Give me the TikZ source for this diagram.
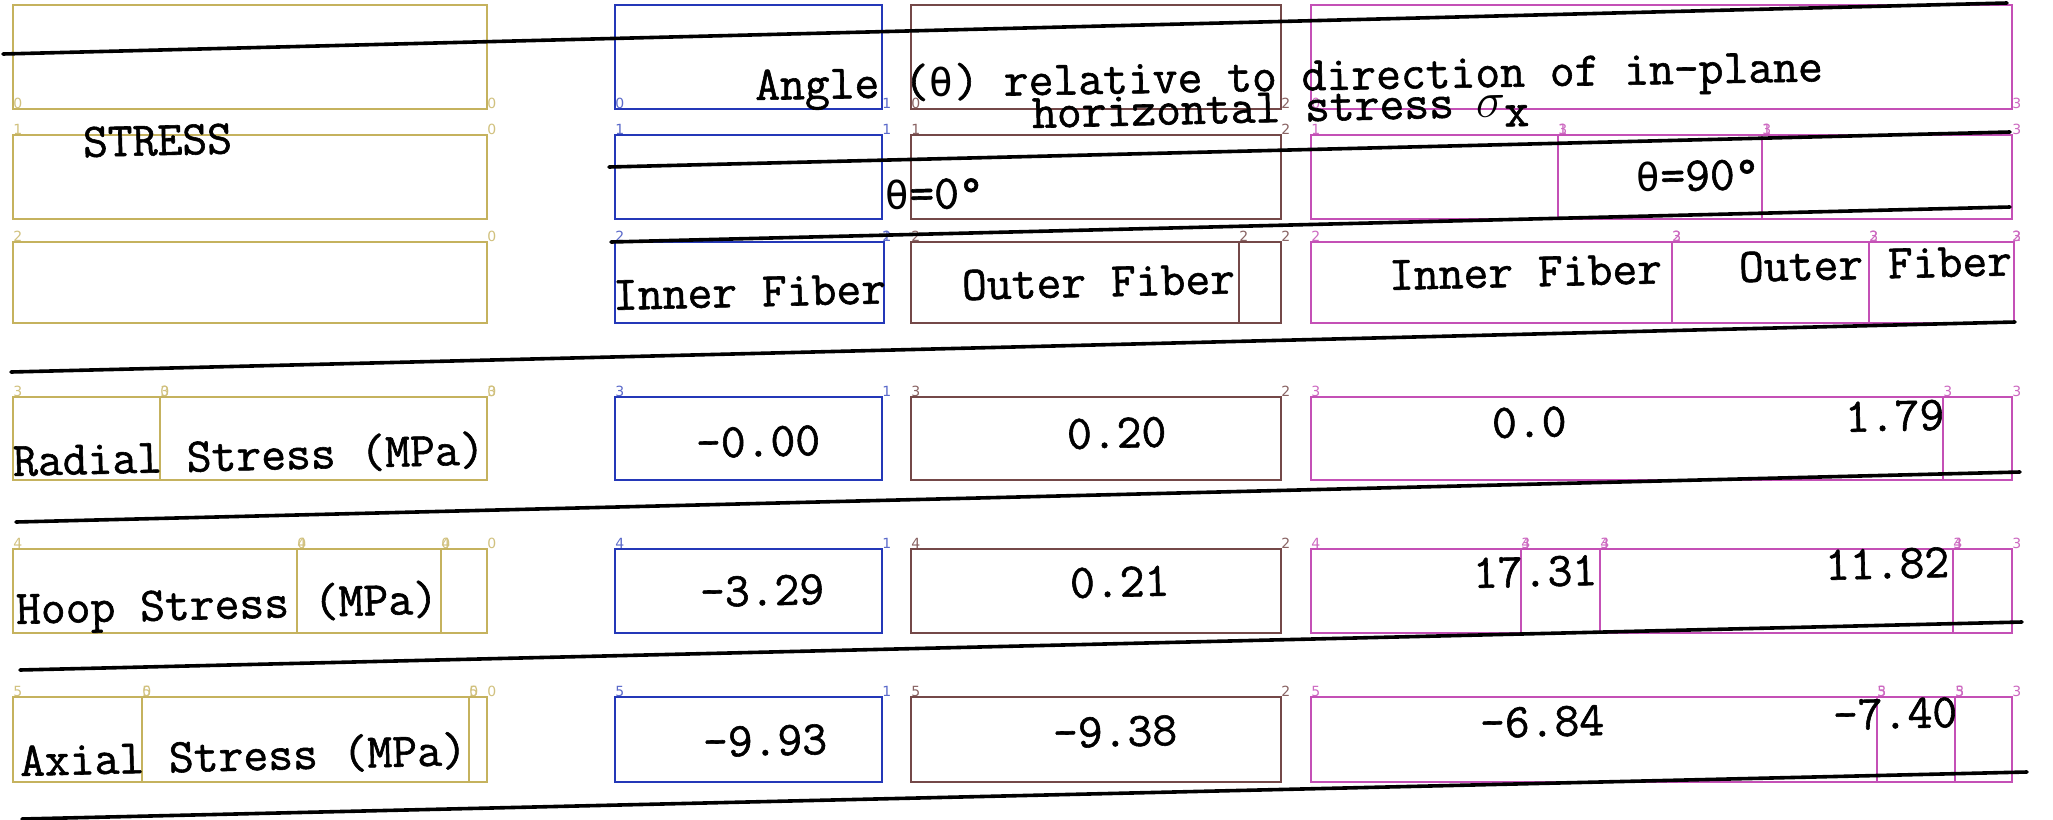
\documentclass[tikz,border=0pt]{standalone}
\usepackage{fontspec}
\newfontfamily\tw[FakeBold=1.2]{Latin Modern Mono}
\newfontfamily\grk{DejaVu Sans Mono}
\newfontfamily\idxfont{DejaVu Sans}
\definecolor{cgold}{RGB}{197,178,94}
\definecolor{cblue}{RGB}{36,56,184}
\definecolor{cbrown}{RGB}{116,72,72}
\definecolor{cpink}{RGB}{196,80,182}
\newcommand\ov[2]{\rlap{#1}#2}
\newcommand\gth{\makebox[0.525em]{\grk\fontsize{20}{20}\selectfont θ}}
\newcommand\gsig{\makebox[0.525em]{$\sigma$}}
\begin{document}
\begin{tikzpicture}[x=0.5pt,y=-0.5pt,
  goldbox/.style={draw=cgold,line width=1pt},
  bluebox/.style={draw=cblue,line width=1pt},
  brownbox/.style={draw=cbrown,line width=1pt},
  pinkbox/.style={draw=cpink,line width=1pt},
  rule/.style={line width=1.8pt,line cap=round},
  txt/.style={font=\tw\fontsize{24.1}{25}\selectfont,inner sep=0pt,anchor=base west,rotate=1.4},
  idx/.style={font=\idxfont\fontsize{7}{7}\selectfont,inner sep=0pt,anchor=south west},
  ig/.style={idx,text=cgold!80},
  ib/.style={idx,text=cblue!75},
  ibr/.style={idx,text=cbrown!85},
  ip/.style={idx,text=cpink!85}]
\useasboundingbox (0,0) rectangle (2053,820);
\fill[white] (0,0) rectangle (2053,820);

% ---- gold column
\draw[goldbox] (13,5) rectangle (487,109);
\draw[goldbox] (13,135) rectangle (487,219);
\draw[goldbox] (13,242) rectangle (487,323);
\draw[goldbox] (13,397) rectangle (160,480);
\draw[goldbox] (160,397) rectangle (487,480);
\draw[goldbox] (13,549) rectangle (297,633);
\draw[goldbox] (297,549) rectangle (441,633);
\draw[goldbox] (441,549) rectangle (487,633);
\draw[goldbox] (13,697) rectangle (142,782);
\draw[goldbox] (142,697) rectangle (469,782);
\draw[goldbox] (469,697) rectangle (487,782);
% ---- blue column
\draw[bluebox] (615,5) rectangle (882,109);
\draw[bluebox] (615,135) rectangle (882,219);
\draw[bluebox] (615,242) rectangle (884,323);
\draw[bluebox] (615,397) rectangle (882,480);
\draw[bluebox] (615,549) rectangle (882,633);
\draw[bluebox] (615,697) rectangle (882,782);
% ---- brown column
\draw[brownbox] (911,5) rectangle (1281,109);
\draw[brownbox] (911,135) rectangle (1281,219);
\draw[brownbox] (911,242) rectangle (1239,323);
\draw[brownbox] (1239,242) rectangle (1281,323);
\draw[brownbox] (911,397) rectangle (1281,480);
\draw[brownbox] (911,549) rectangle (1281,633);
\draw[brownbox] (911,697) rectangle (1281,782);
% ---- pink column
\draw[pinkbox] (1311,5) rectangle (2012,109);
\draw[pinkbox] (1311,135) rectangle (1558,219);
\draw[pinkbox] (1558,135) rectangle (1762,219);
\draw[pinkbox] (1762,135) rectangle (2012,219);
\draw[pinkbox] (1311,242) rectangle (1672,323);
\draw[pinkbox] (1672,242) rectangle (1869,323);
\draw[pinkbox] (1869,242) rectangle (2014,323);
\draw[pinkbox] (1311,397) rectangle (1943,480);
\draw[pinkbox] (1943,397) rectangle (2012,480);
\draw[pinkbox] (1311,549) rectangle (1521,633);
\draw[pinkbox] (1521,549) rectangle (1600,633);
\draw[pinkbox] (1600,549) rectangle (1953,633);
\draw[pinkbox] (1953,549) rectangle (2012,633);
\draw[pinkbox] (1311,697) rectangle (1877,782);
\draw[pinkbox] (1877,697) rectangle (1955,782);
\draw[pinkbox] (1955,697) rectangle (2012,782);

% ---- index labels
\node[ig] (g00) at (13,109) {0};   \node[ig] (g01) at (487,109) {0};
\node[ig] (g10) at (13,135) {1};   \node[ig] (g11) at (487,135) {0};
\node[ig] (g20) at (13,242) {2};   \node[ig] (g21) at (487,242) {0};
\node[ig] (g30) at (13,397) {3};   \node[ig] (g31) at (160,397) {\ov{0}{3}}; \node[ig] (g32) at (487,397) {\ov{0}{3}};
\node[ig] (g40) at (13,549) {4};   \node[ig] (g41) at (297,549) {\ov{0}{4}}; \node[ig] (g42) at (441,549) {\ov{0}{4}}; \node[ig] (g43) at (487,549) {0};
\node[ig] (g50) at (13,697) {5};   \node[ig] (g51) at (142,697) {\ov{0}{5}}; \node[ig] (g52) at (469,697) {\ov{0}{5}}; \node[ig] (g53) at (487,697) {0};

\node[ib] (b00) at (615,109) {0};  \node[ib] (b01) at (882,109) {1};
\node[ib] (b10) at (615,135) {1};  \node[ib] (b11) at (882,135) {1};
\node[ib] (b20) at (615,242) {2};  \node[ib] (b21) at (882,242) {\ov{1}{2}};
\node[ib] (b30) at (615,397) {3};  \node[ib] (b31) at (882,397) {1};
\node[ib] (b40) at (615,549) {4};  \node[ib] (b41) at (882,549) {1};
\node[ib] (b50) at (615,697) {5};  \node[ib] (b51) at (882,697) {1};

\node[ibr] (r00) at (911,109) {0};  \node[ibr] (r01) at (1281,109) {2};
\node[ibr] (r10) at (911,135) {1};  \node[ibr] (r11) at (1281,135) {2};
\node[ibr] (r20) at (911,242) {2};  \node[ibr] (r21) at (1239,242) {2}; \node[ibr] (r22) at (1281,242) {2};
\node[ibr] (r30) at (911,397) {3};  \node[ibr] (r31) at (1281,397) {2};
\node[ibr] (r40) at (911,549) {4};  \node[ibr] (r41) at (1281,549) {2};
\node[ibr] (r50) at (911,697) {5};  \node[ibr] (r51) at (1281,697) {2};

\node[ip] (p00) at (1311,109) {0};  \node[ip] (p01) at (2012,109) {3};
\node[ip] (p10) at (1311,135) {1};  \node[ip] (p11) at (1558,135) {\ov{1}{3}}; \node[ip] (p12) at (1762,135) {\ov{1}{3}}; \node[ip] (p13) at (2012,135) {3};
\node[ip] (p20) at (1311,242) {2};  \node[ip] (p21) at (1672,242) {\ov{2}{3}}; \node[ip] (p22) at (1869,242) {\ov{2}{3}}; \node[ip] (p23) at (2012,242) {\ov{2}{3}};
\node[ip] (p30) at (1311,397) {3};  \node[ip] (p31) at (1943,397) {3}; \node[ip] (p32) at (2012,397) {3};
\node[ip] (p40) at (1311,549) {4};  \node[ip] (p41) at (1521,549) {\ov{3}{4}}; \node[ip] (p42) at (1600,549) {\ov{3}{4}}; \node[ip] (p43) at (1953,549) {\ov{3}{4}}; \node[ip] (p44) at (2012,549) {3};
\node[ip] (p50) at (1311,697) {5};  \node[ip] (p51) at (1877,697) {\ov{3}{5}}; \node[ip] (p52) at (1955,697) {\ov{3}{5}}; \node[ip] (p53) at (2012,697) {3};

% ---- table rules
\coordinate (l1a) at (3,54);    \coordinate (l1b) at (2007,3);
\coordinate (l2a) at (609,167); \coordinate (l2b) at (2010,132);
\coordinate (l3a) at (611,242); \coordinate (l3b) at (2010,207);
\coordinate (l4a) at (11,372);  \coordinate (l4b) at (2015,322);
\coordinate (l5a) at (16,522);  \coordinate (l5b) at (2020,472);
\coordinate (l6a) at (20,670);  \coordinate (l6b) at (2022,622);
\coordinate (l7a) at (22,819);  \coordinate (l7b) at (2027,772);
\foreach \i in {1,...,7} {\draw[rule] (l\i a) -- (l\i b);}

% ---- texts
\node[txt] (stress) at (83,157) {STRESS};
\node[txt,rotate=-0.4] (angle) at (755,100) {Angle (\gth) relative to direction of in-plane};
\node[txt] (horiz) at (1032,128) {horizontal stress \gsig\raisebox{-5pt}{x}};
\node[txt] (th0) at (884,210) {\gth=0°};
\node[txt] (th90) at (1635,192) {\gth=90°};
\node[txt] (in1) at (613,310) {Inner Fiber};
\node[txt] (out1) at (962,300) {Outer Fiber};
\node[txt] (in2) at (1389,290) {Inner Fiber};
\node[txt] (out2) at (1739,282) {Outer Fiber};
\node[txt] (radial) at (13,476) {Radial Stress (MPa)};
\node[txt] (hoop) at (16,624) {Hoop Stress (MPa)};
\node[txt] (axial) at (20,776) {Axial Stress (MPa)};
\node[txt] (v11) at (696,458) {-0.00};
\node[txt] (v12) at (1067,449) {0.20};
\node[txt] (v13) at (1492,438) {0.0};
\node[txt] (v14) at (1845,432) {1.79};
\node[txt] (v21) at (700,607) {-3.29};
\node[txt] (v22) at (1070,598) {0.21};
\node[txt] (v23) at (1473,588) {17.31};
\node[txt] (v24) at (1825,580) {11.82};
\node[txt] (v31) at (703,757) {-9.93};
\node[txt] (v32) at (1053,748) {-9.38};
\node[txt] (v33) at (1480,738) {-6.84};
\node[txt] (v34) at (1833,730) {-7.40};
\end{tikzpicture}
\end{document}
